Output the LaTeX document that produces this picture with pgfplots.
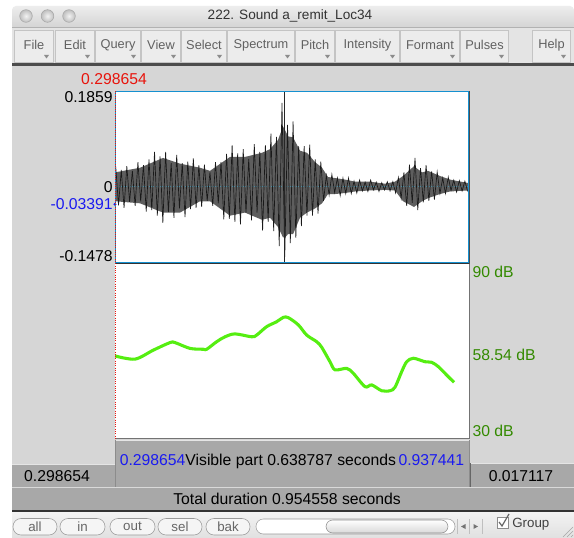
\documentclass[border=0pt]{standalone}
\usepackage{fontspec}
\setmainfont{Liberation Sans}
\usepackage{pgfplots}
\usepackage{pgfplotstable}
\pgfplotsset{compat=1.18}

\definecolor{winbg}{HTML}{D6D6D6}
\definecolor{menubg}{HTML}{E4E4E4}
\definecolor{btnbg}{HTML}{ECECEC}
\definecolor{btnline}{HTML}{C4C4C4}
\definecolor{bargray}{HTML}{A8A8A8}
\definecolor{praatblue}{HTML}{1A1AF0}
\definecolor{praatred}{HTML}{E8140C}
\definecolor{boxblue}{HTML}{1590D0}
\definecolor{wavegray}{HTML}{5E5E5E}
\definecolor{intgreen}{HTML}{55EE11}
\definecolor{lblgreen}{HTML}{338A00}
\definecolor{zeroline}{HTML}{4A8AA0}

\newcommand{\pf}{\fontsize{11.8}{13}\selectfont}
\newcommand{\mf}{\fontsize{9.6}{11}\selectfont}

% intensity contour: time (s), dB
\pgfplotstableread{
t      db
0.2987 58.3
0.3348 57.2
0.3678 60.3
0.3979 62.9
0.4069 62.9
0.4340 60.9
0.4580 60.6
0.4641 60.6
0.4821 63.2
0.4972 64.9
0.5152 65.9
0.5453 64.9
0.5543 65.5
0.5724 68.4
0.5904 70.1
0.6024 71.6
0.6114 71.5
0.6295 69.0
0.6445 65.5
0.6626 63.2
0.6716 61.3
0.6866 56.3
0.6957 53.5
0.7168 54.0
0.7287 52.3
0.7498 47.7
0.7619 48.3
0.7799 46.3
0.7949 46.3
0.8039 47.5
0.8160 52.9
0.8250 56.3
0.8370 57.5
0.8581 56.3
0.8701 56.1
0.8821 54.6
0.8972 51.7
0.9104 49.2
}\inttable

\begin{document}
\begin{tikzpicture}[x=0.75pt,y=-0.75pt]
\useasboundingbox (0,0) rectangle (574,538);
\fill[white] (0,0) rectangle (574,538);

% title bar
\shade[top color=white!93!black, bottom color=white!82!black, rounded corners=3pt]
  (12,6) rectangle (574,30);
\foreach \cx in {26,47.5,69}
  \shade[draw=black!35, inner color=white!95!black, outer color=white!75!black]
    (\cx,16) circle (6.3);
\node[text=black!80, font=\fontsize{10.2}{12}\selectfont] at (290,16) {222. Sound a\_remit\_Loc34};

% menu bar
\fill[menubg] (12,27) rectangle (574,64);
\draw[black!30] (12,27.5) -- (574,27.5);
\foreach \a/\b/\t in {14/54/File, 55/95/Edit, 95/141/Query, 141/181/View,
  181/227/Select, 227/295/Spectrum, 295/335/Pitch, 335/400/Intensity,
  400/460/Formant, 460/509/Pulses, 532/571/Help} {
  \draw[btnline, fill=btnbg] (\a+0.5,30.5) rectangle (\b-0.5,62);
  \node[text=black!62, font=\mf] at ({(\a+\b)/2},45) {\t};
  \fill[black!45] (\b-10,55) -- (\b-5,55) -- (\b-7.5,58.5) -- cycle;
}
\fill[black!70] (12,63) rectangle (574,66);

% main area
\fill[winbg] (12,66) rectangle (574,512);
\fill[white] (115,91) rectangle (469,438);

% waveform (placed in absolute pt: 115px,91px)
\begin{axis}[at={(86.25pt,-68.25pt)}, anchor=north west, width=265.5pt, height=129pt,
  scale only axis, axis lines=none, ticks=none, clip mode=individual,
  xmin=0.298654, xmax=0.937441, ymin=-0.1478, ymax=0.1859]
% dense core of the waveform: upper edge forward, lower edge back
\addplot[fill=wavegray, draw=none] coordinates {
(0.2987,0.028)(0.3438,0.037)(0.3853,0.056)(0.4160,0.045)(0.4520,0.037)(0.4701,0.031)
(0.5062,0.058)(0.5332,0.058)(0.5639,0.066)(0.5784,0.073)(0.5928,0.091)(0.6018,0.117)
(0.6054,0.110)(0.6108,0.098)(0.6199,0.096)(0.6325,0.070)(0.6451,0.066)(0.6596,0.048)
(0.6722,0.037)(0.6830,0.019)(0.6957,0.017)(0.7137,0.014)(0.7318,0.010)(0.7588,0.010)
(0.7859,0.006)(0.8039,0.010)(0.8184,0.021)(0.8382,0.040)(0.8527,0.028)(0.8635,0.031)
(0.8851,0.021)(0.9032,0.014)(0.9374,0.007)
(0.9374,-0.007)(0.9032,-0.009)(0.8851,-0.014)(0.8635,-0.022)(0.8527,-0.028)(0.8382,-0.039)
(0.8184,-0.028)(0.8039,-0.007)(0.7859,-0.006)(0.7588,-0.007)(0.7318,-0.009)(0.7137,-0.012)
(0.6957,-0.014)(0.6830,-0.014)(0.6722,-0.032)(0.6596,-0.042)(0.6451,-0.050)(0.6325,-0.060)
(0.6199,-0.092)(0.6108,-0.092)(0.6054,-0.098)(0.6018,-0.098)(0.5928,-0.078)(0.5784,-0.060)
(0.5639,-0.064)(0.5332,-0.050)(0.5062,-0.056)(0.4701,-0.028)(0.4520,-0.028)(0.4160,-0.050)
(0.3853,-0.050)(0.3438,-0.032)(0.2987,-0.028)
} -- cycle;
\draw[zeroline, densely dotted, line width=0.6pt] (axis cs:0.298654,0) -- (axis cs:0.937441,0);
% sample extremes, drawn as alternating strokes
\addplot[sharp plot, black!90, line width=0.5pt, no markers] coordinates {
(0.300,0.039)(0.305,-0.036)(0.310,0.033)(0.315,-0.041)(0.320,0.040)(0.325,-0.029)
(0.330,0.031)(0.335,-0.037)(0.340,0.048)(0.345,-0.028)(0.350,0.042)(0.355,-0.048)
(0.360,0.053)(0.365,-0.045)(0.370,0.068)(0.375,-0.056)(0.380,0.059)(0.385,-0.070)
(0.390,0.068)(0.395,-0.049)(0.400,0.046)(0.405,-0.060)(0.410,0.062)(0.415,-0.042)
(0.420,0.046)(0.425,-0.059)(0.430,0.049)(0.435,-0.043)(0.440,0.055)(0.445,-0.041)
(0.450,0.042)(0.455,-0.039)(0.460,0.043)(0.465,-0.027)(0.470,0.028)(0.475,-0.037)
(0.480,0.048)(0.485,-0.032)(0.490,0.048)(0.495,-0.063)(0.500,0.064)(0.505,-0.062)
(0.510,0.081)(0.515,-0.068)(0.520,0.065)(0.525,-0.073)(0.530,0.073)(0.535,-0.050)
(0.540,0.054)(0.545,-0.065)(0.550,0.083)(0.555,-0.050)(0.560,0.068)(0.565,-0.085)
(0.570,0.081)(0.575,-0.068)(0.580,0.103)(0.585,-0.086)(0.590,0.097)(0.595,-0.115)
(0.600,0.163)(0.605,-0.136)(0.610,0.120)(0.615,-0.109)(0.620,0.127)(0.625,-0.099)
(0.630,0.079)(0.635,-0.076)(0.640,0.079)(0.645,-0.056)(0.650,0.082)(0.655,-0.056)
(0.660,0.053)(0.665,-0.052)(0.670,0.049)(0.675,-0.027)(0.680,0.022)(0.685,-0.016)
(0.690,0.024)(0.695,-0.011)(0.700,0.017)(0.705,-0.017)(0.710,0.017)(0.715,-0.013)
(0.720,0.017)(0.725,-0.013)(0.730,0.011)(0.735,-0.012)(0.740,0.013)(0.745,-0.008)
(0.750,0.009)(0.755,-0.009)(0.760,0.013)(0.765,-0.006)(0.770,0.009)(0.775,-0.009)
(0.780,0.008)(0.785,-0.006)(0.790,0.010)(0.795,-0.008)(0.800,0.010)(0.805,-0.012)
(0.810,0.018)(0.815,-0.022)(0.820,0.028)(0.825,-0.037)(0.830,0.043)(0.835,-0.031)
(0.840,0.056)(0.845,-0.045)(0.850,0.036)(0.855,-0.030)(0.860,0.042)(0.865,-0.027)
(0.870,0.030)(0.875,-0.025)(0.880,0.029)(0.885,-0.013)(0.890,0.017)(0.895,-0.013)
(0.900,0.019)(0.905,-0.007)(0.910,0.013)(0.915,-0.010)(0.920,0.012)(0.925,-0.008)
(0.930,0.011)(0.935,-0.009)
};
\draw[black!85, line width=0.75pt] (axis cs:0.6054,-0.1478) -- (axis cs:0.6054,0.1859);
\node[anchor=north east, font=\pf, inner sep=0pt, xshift=-1.5pt] at (axis cs:0.298654,0.1859) {0.1859};
\node[anchor=east, font=\pf, inner sep=0pt, xshift=-1.5pt] at (axis cs:0.298654,0) {0};
\node[anchor=east, font=\pf, inner sep=0pt, xshift=-1.5pt, text=praatblue] at (axis cs:0.298654,-0.03391) {-0.03391};
\node[anchor=south east, font=\pf, inner sep=0pt, xshift=-1.5pt, yshift=1pt] at (axis cs:0.298654,-0.1478) {-0.1478};
\fill[praatblue] (axis cs:0.298654,-0.03391) circle (1.2pt);
\end{axis}

% intensity (placed in absolute pt: 115px,264px)
\begin{axis}[at={(86.25pt,-198pt)}, anchor=north west, width=265.5pt, height=130.5pt,
  scale only axis, axis lines=none, ticks=none, clip mode=individual,
  xmin=0.298654, xmax=0.937441, ymin=30, ymax=90]
\addplot[smooth, intgreen, line width=2.3pt, no markers] table[x=t, y=db] {\inttable};
\node[anchor=north west, font=\pf, inner sep=0pt, xshift=2.5pt, yshift=-1.5pt, text=lblgreen] at (axis cs:0.937441,90) {90 dB};
\node[anchor=west, font=\pf, inner sep=0pt, xshift=2.5pt, text=lblgreen] at (axis cs:0.937441,58.54) {58.54 dB};
\node[anchor=south west, font=\pf, inner sep=0pt, xshift=2.5pt, yshift=1pt, text=lblgreen] at (axis cs:0.937441,30) {30 dB};
\end{axis}

% frames
\draw[black!80, line width=0.75pt] (115,263.8) -- (469,263.8);
\draw[boxblue, line width=1.1pt] (115.5,91.5) rectangle (468.5,262.6);
\draw[black!70, line width=0.75pt] (469.2,91) -- (469.2,263.5);
\draw[black!55, line width=0.75pt] (469.2,264) -- (469.2,438.5) -- (115,438.5);
\draw[praatred, densely dotted, line width=0.7pt] (115,91) -- (115,440);
\node[text=praatred, font=\pf] at (114,79) {0.298654};

% bottom bars
\fill[bargray] (115,440) rectangle (469,487);
\draw[white!90!black] (115,440.5) -- (469,440.5);
\draw[black!45] (115,440) -- (115,487);
\draw[black!45] (469,440) -- (469,487);
\fill[bargray] (12,464) rectangle (115,487);
\draw[white!90!black] (12,464.5) -- (115,464.5);
\fill[bargray] (470,463) rectangle (574,487);
\draw[white!90!black] (470,463.5) -- (574,463.5);
\draw[black!60] (470,463) -- (470,487);
\fill[white!85!black] (12,487) rectangle (574,488);
\fill[bargray] (12,488) rectangle (574,510);
\fill[black!80] (12,510) rectangle (574,512.5);
\node[font=\pf] at (57,476) {0.298654};
\node[font=\pf] at (521,476) {0.017117};
\node[font=\pf] at (292,461) {\textcolor{praatblue}{0.298654}Visible part 0.638787 seconds\,\textcolor{praatblue}{0.937441}};
\node[font=\pf] at (287,499) {Total duration 0.954558 seconds};

% bottom toolbar
\shade[top color=white!95!black, bottom color=white!88!black] (12,512.5) rectangle (574,538);
\foreach \a/\b/\t in {13/57/all, 60/105/in, 110/155/out, 158/202/sel, 206/250/bak} {
  \draw[black!40, fill=white!96!black, rounded corners=6pt] (\a,518.5) rectangle (\b,535);
  \node[text=black!60, font=\fontsize{10}{12}\selectfont] at ({(\a+\b)/2},526.5) {\t};
}
\draw[black!40, fill=white, rounded corners=5.5pt] (256,519) rectangle (455,534);
\shade[draw=black!45, top color=white, bottom color=white!85!black, rounded corners=5pt] (326,520) rectangle (448,533);
\draw[black!25] (457,519) -- (457,534);
\draw[black!25] (469,519) -- (469,534);
\draw[black!25] (482,519) -- (482,534);
\fill[black!55] (461,526.5) -- (465.5,524) -- (465.5,529) -- cycle;
\fill[black!55] (478,526.5) -- (473.5,524) -- (473.5,529) -- cycle;
\draw[black!45, fill=white] (497,517) rectangle (508,528);
\draw[black!60, line width=0.9pt] (499,522) -- (502,526) -- (509,514);
\node[anchor=west, text=black!75, font=\fontsize{10}{12}\selectfont, inner sep=0pt] at (512,524) {Group};
\draw[black!35] (563,537) -- (573,527);
\draw[black!35] (567,537) -- (573,531);
\draw[black!35] (571,537) -- (573,535);
\end{tikzpicture}
\end{document}
